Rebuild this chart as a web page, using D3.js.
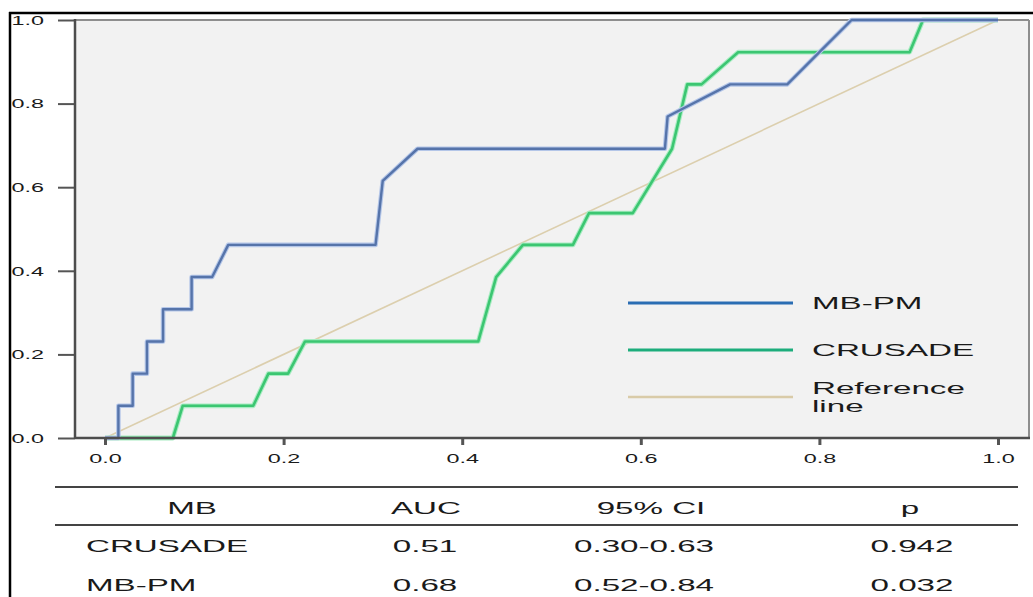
<!DOCTYPE html>
<html>
<head>
<meta charset="utf-8">
<script src="https://cdn.jsdelivr.net/npm/d3@7"></script>
<style>
  html, body { margin: 0; padding: 0; background: #ffffff; }
  svg { display: block; }
  text { font-family: "Liberation Sans", Arial, Helvetica, sans-serif; fill: #1a1a1a; }
</style>
</head>
<body>
<svg id="chart" width="1033" height="597"></svg>
<script>
// ---------------- data ----------------
const xTicks = [0, 0.2, 0.4, 0.6, 0.8, 1.0];
const yTicks = [0, 0.2, 0.4, 0.6, 0.8, 1.0];

const mbpmFPR = [0, 0.015, 0.015, 0.031, 0.031, 0.047, 0.047, 0.065, 0.065, 0.097, 0.097, 0.120, 0.138, 0.303, 0.311, 0.350, 0.627, 0.630, 0.700, 0.764, 0.800, 0.836, 1.0];
const mbpmTPR = [0, 0, 0.077, 0.077, 0.154, 0.154, 0.231, 0.231, 0.308, 0.308, 0.385, 0.385, 0.462, 0.462, 0.615, 0.692, 0.692, 0.769, 0.846, 0.846, 0.923, 1.0, 1.0];

const crusadeFPR = [0, 0.076, 0.087, 0.166, 0.183, 0.205, 0.224, 0.418, 0.438, 0.468, 0.524, 0.542, 0.591, 0.635, 0.652, 0.668, 0.709, 0.901, 0.916, 1.0];
const crusadeTPR = [0, 0, 0.077, 0.077, 0.154, 0.154, 0.231, 0.231, 0.385, 0.462, 0.462, 0.538, 0.538, 0.692, 0.846, 0.846, 0.923, 0.923, 1.0, 1.0];

const refFPR = [0, 1];
const refTPR = [0, 1];

const legendNames = ["MB-PM", "CRUSADE", "Reference line"];

const tableHeaders = ["MB", "AUC", "95% CI", "p"];
const rowNames = ["CRUSADE", "MB-PM"];
const aucValues = ["0.51", "0.68"];
const ciValues = ["0.30-0.63", "0.52-0.84"];
const pValues = ["0.942", "0.032"];

// ---------------- layout ----------------
const SX = 1.95; // horizontal stretch of the source figure's text
const svg = d3.select("#chart");

const plotLeft = 75, plotRight = 1029, plotTop = 20, plotBottom = 438;
const x = d3.scaleLinear().domain([0, 1]).range([105, 998]);
const y = d3.scaleLinear().domain([0, 1]).range([plotBottom, plotTop]);

function stretchText(sel, px, py, str, size, anchor) {
  return sel.append("text")
    .attr("transform", `translate(${px},${py}) scale(${SX},1)`)
    .attr("text-anchor", anchor || "start")
    .attr("dy", "0.35em")
    .style("font-size", size + "px")
    .text(str);
}

// plot background
svg.append("rect")
  .attr("x", plotLeft).attr("y", plotTop)
  .attr("width", plotRight - plotLeft).attr("height", plotBottom - plotTop)
  .attr("fill", "#f2f2f2");

// top / right plot border
svg.append("line").attr("x1", plotLeft).attr("x2", plotRight).attr("y1", plotTop).attr("y2", plotTop)
  .attr("stroke", "#8e8e8e").attr("stroke-width", 2);
svg.append("line").attr("x1", plotRight).attr("x2", plotRight).attr("y1", plotTop).attr("y2", plotBottom)
  .attr("stroke", "#8e8e8e").attr("stroke-width", 2);

// outer black frame (top & left)
svg.append("line").attr("x1", 9).attr("x2", 1033).attr("y1", 13).attr("y2", 13)
  .attr("stroke", "#000").attr("stroke-width", 2.5);
svg.append("line").attr("x1", 10).attr("x2", 10).attr("y1", 12).attr("y2", 597)
  .attr("stroke", "#000").attr("stroke-width", 2.5);

// ---------------- curves ----------------
const line = d3.line().x(d => x(d[0])).y(d => y(d[1]));
const refPts = refFPR.map((v, i) => [v, refTPR[i]]);
const mbpmPts = mbpmFPR.map((v, i) => [v, mbpmTPR[i]]);
const crusadePts = crusadeFPR.map((v, i) => [v, crusadeTPR[i]]);

svg.append("path").datum(refPts).attr("d", line)
  .attr("fill", "none").attr("stroke", "#dccfae").attr("stroke-width", 1.6);

svg.append("path").datum(crusadePts).attr("d", line)
  .attr("fill", "none").attr("stroke", "#a8ecc2").attr("stroke-width", 4.8).attr("stroke-linejoin", "round");
svg.append("path").datum(crusadePts).attr("d", line)
  .attr("fill", "none").attr("stroke", "#3cc672").attr("stroke-width", 2.6).attr("stroke-linejoin", "round");

svg.append("path").datum(mbpmPts).attr("d", line)
  .attr("fill", "none").attr("stroke", "#b4c6e8").attr("stroke-width", 4.6).attr("stroke-linejoin", "round");
svg.append("path").datum(mbpmPts).attr("d", line)
  .attr("fill", "none").attr("stroke", "#5674aa").attr("stroke-width", 2.4).attr("stroke-linejoin", "round");

// ---------------- axes ----------------
const fmt = d3.format(".1f");
const yAxis = d3.axisLeft(y).tickValues(yTicks).tickFormat(fmt).tickSize(17).tickPadding(14);
const gy = svg.append("g").attr("transform", `translate(${plotLeft},0)`).call(yAxis);
gy.select(".domain").remove();
gy.selectAll(".tick line").attr("stroke", "#555").attr("stroke-width", 2);
gy.selectAll(".tick text").each(function() {
  const t = d3.select(this);
  const xx = +t.attr("x");
  t.attr("x", null).attr("dy", "0.35em")
   .attr("transform", `translate(${xx},0) scale(${SX},1)`)
   .style("font-size", "12px").attr("fill", "#1a1a1a");
});

const xAxis = d3.axisBottom(x).tickValues(xTicks).tickFormat(fmt).tickSize(7).tickPadding(9);
const gx = svg.append("g").attr("transform", `translate(0,${plotBottom})`).call(xAxis);
gx.select(".domain").remove();
gx.selectAll(".tick line").attr("stroke", "#555").attr("stroke-width", 3);
gx.selectAll(".tick text").each(function() {
  const t = d3.select(this);
  const yy = +t.attr("y");
  t.attr("y", null).attr("dy", "0.71em")
   .attr("transform", `translate(0,${yy}) scale(${SX},1)`)
   .style("font-size", "12px").attr("fill", "#1a1a1a");
});

// axis lines (frame left / bottom)
svg.append("line").attr("x1", plotLeft).attr("x2", plotLeft).attr("y1", plotTop - 1).attr("y2", plotBottom + 1)
  .attr("stroke", "#4d4d4d").attr("stroke-width", 2.5);
svg.append("line").attr("x1", plotLeft).attr("x2", plotRight + 1).attr("y1", plotBottom).attr("y2", plotBottom)
  .attr("stroke", "#4d4d4d").attr("stroke-width", 2.5);

// ---------------- legend ----------------
const legendColors = ["#2a6db3", "#1dad7c", "#d9cba8"];
const legendWidths = [2.8, 3.2, 2.4];
const legendY = [303, 350, 397];
const lg = svg.append("g");
legendNames.forEach((name, i) => {
  lg.append("line").attr("x1", 628).attr("x2", 793).attr("y1", legendY[i]).attr("y2", legendY[i])
    .attr("stroke", legendColors[i]).attr("stroke-width", legendWidths[i]);
  const parts = name === "Reference line" ? ["Reference", "line"] : [name];
  if (parts.length === 1) {
    stretchText(lg, 812, legendY[i], parts[0], 17, "start");
  } else {
    stretchText(lg, 812, legendY[i] - 9, parts[0], 17, "start");
    stretchText(lg, 812, legendY[i] + 9, parts[1], 17, "start");
  }
});

// ---------------- table ----------------
const tg = svg.append("g");
tg.append("line").attr("x1", 55).attr("x2", 1018).attr("y1", 487).attr("y2", 487)
  .attr("stroke", "#444").attr("stroke-width", 2);
tg.append("line").attr("x1", 55).attr("x2", 1018).attr("y1", 525).attr("y2", 525)
  .attr("stroke", "#444").attr("stroke-width", 2);

const headerX = [192, 426, 651, 910];
tableHeaders.forEach((h, i) => stretchText(tg, headerX[i], 508, h, 17, "middle"));

const rowY = [546, 585];
rowNames.forEach((r, i) => {
  stretchText(tg, 86, rowY[i], r, 17, "start");
  stretchText(tg, 425, rowY[i], aucValues[i], 17, "middle");
  stretchText(tg, 644, rowY[i], ciValues[i], 17, "middle");
  stretchText(tg, 912, rowY[i], pValues[i], 17, "middle");
});
</script>
</body>
</html>
